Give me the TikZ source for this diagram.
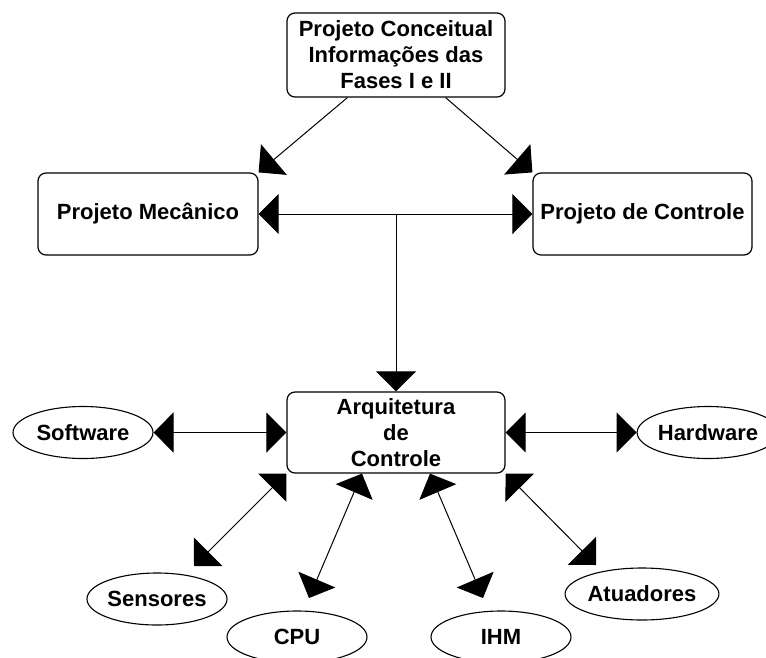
\documentclass[tikz,border=0pt]{standalone}
\usepackage{fontspec}
\setmainfont{Liberation Sans}
\usetikzlibrary{arrows.meta,shapes.geometric,calc}
\tikzset{
  tri/.tip={Triangle[length=20pt, width=40pt]},
  box/.style={draw, rounded corners=8pt, line width=1.2pt, align=center,
    inner sep=0pt, font=\fontsize{22}{26}\selectfont\bfseries},
  oval/.style={draw, ellipse, line width=1.1pt, inner sep=0pt,
    minimum width=140pt, minimum height=52pt,
    font=\fontsize{22}{26}\selectfont\bfseries},
  link/.style={line width=1pt},
}
\begin{document}
\begin{tikzpicture}[x=1pt,y=-1pt]
\useasboundingbox (0,0) rectangle (766,657);

% main blocks
\node[box, minimum width=218pt, minimum height=84pt] (top) at (396,55)
  {Projeto Conceitual\\Informações das\\Fases I e II};
\node[box, minimum width=220pt, minimum height=82pt] (mec) at (148,214)
  {Projeto Mecânico};
\node[box, minimum width=219pt, minimum height=82pt] (ctl) at (642.5,214)
  {Projeto de Controle};
\node[box, minimum width=218pt, minimum height=81pt] (arq) at (396,432.5)
  {Arquitetura\\de\\Controle};

% components
\node[oval] (sw)  at (83,432.5)  {Software};
\node[oval] (hw)  at (708,432.5) {Hardware};
\node[oval] (sen) at (157,599)   {Sensores};
\node[oval] (cpu) at (297,637)   {CPU};
\node[oval] (ihm) at (501,637)   {IHM};
\node[oval] (atu) at (642,594)   {Atuadores};

% connector end points
\coordinate (t1) at ($(top.south west)+(61,0)$);
\coordinate (t2) at ($(top.south east)+(-60,0)$);
\coordinate (jn) at (arq.north |- mec.east);
\coordinate (a1) at ($(arq.south)+(-34,0)$);
\coordinate (a2) at ($(arq.south)+(34,0)$);
\coordinate (senT) at ($(sen)+(37,-33)$);
\coordinate (cpuT) at ($(cpu)+(12,-39)$);
\coordinate (ihmT) at ($(ihm)+(-18,-39)$);
\coordinate (atuT) at ($(atu)+(-46,-29)$);

% connectors
\draw[link,-tri] (t1) -- (mec.north east);
\draw[link,-tri] (t2) -- (ctl.north west);
\draw[link,tri-tri] (mec.east) -- (ctl.west);
\draw[link,-tri] (jn) -- (arq.north);
\draw[link,tri-tri] (sw.east) -- (arq.west);
\draw[link,tri-tri] (arq.east) -- (hw.west);
\draw[link,tri-tri] (arq.south west) -- (senT);
\draw[link,tri-tri] (a1) -- (cpuT);
\draw[link,tri-tri] (a2) -- (ihmT);
\draw[link,tri-tri] (arq.south east) -- (atuT);
\end{tikzpicture}
\end{document}
